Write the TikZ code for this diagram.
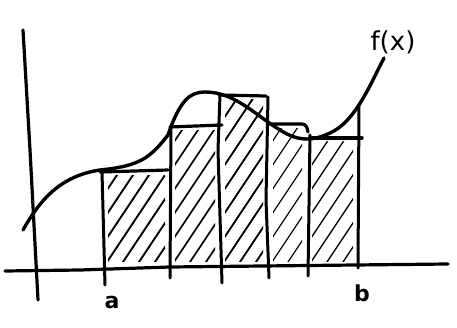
\documentclass[tikz,border=0pt]{standalone}
\usepackage{fontspec}
\setmainfont{DejaVu Sans}
\begin{document}
\begin{tikzpicture}[x=1pt,y=-1pt,
  ink/.style={line width=3.2pt,line cap=round,line join=round},
  curve/.style={line width=3.4pt,line cap=round},
  hatch/.style={line cap=round},
  bar/.style={line width=3.0pt,line cap=round},
  lbl/.style={inner sep=0pt,font=\fontsize{26}{26}\selectfont}]
\useasboundingbox (0,0) rectangle (457,328);
% hatching in each rectangle: left, right, top, line width
\foreach \l/\r/\t/\w in {103/170/171/1.9, 170/220/126/1.7, 220/268/95/1.9, 268/307/124/1.2, 307/358/137/1.3}{
  \begin{scope}
    \clip (\l+5,262) rectangle (\r-5,\t+5);
    \foreach \k in {-200,-184,...,80}{
      \draw[hatch,line width=\w pt] (\l+\k,280) -- (\l+\k+140,70);
    }
  \end{scope}
}
% top edges
\draw[ink] (100,172) -- (168,170);
\draw[ink] (170,127) -- (222,125);
\draw[ink] (219,95) -- (266,96);
\draw[ink] (268,124) -- (302,124) to[out=0,in=95] (308,132);
\draw[ink] (312,138) -- (362,138);
% vertical partition lines
\draw[bar] (102,172) -- (105,285);
\draw[bar] (171,128) -- (170,278);
\draw[bar] (220,95) -- (218,150) -- (222,283);
\draw[bar] (268,97) -- (266,200) -- (269,278);
\draw[bar] (310,135) -- (308,276);
\draw[bar] (359,105) -- (358,268);
% axes
\draw[ink] (23,30) -- (30,150) -- (38,300);
\draw[ink] (5,271) -- (80,270) -- (170,267) -- (448,264);
% curve f(x)
\draw[curve] (23,230) .. controls (40,200) and (60,176) .. (100,170)
  .. controls (140,166) and (150,158) .. (168,135)
  .. controls (180,100) and (190,92) .. (205,92)
  .. controls (235,92) and (255,115) .. (280,130)
  .. controls (300,143) and (315,140) .. (330,133)
  .. controls (355,122) and (370,85) .. (384,58);
\node[lbl] (fx) at (393,42) {f(x)};
\node[lbl,font=\fontsize{22}{22}\selectfont\bfseries] (a) at (112,302) {a};
\node[lbl,font=\fontsize{22}{22}\selectfont\bfseries] (b) at (362,293) {b};
\end{tikzpicture}
\end{document}
